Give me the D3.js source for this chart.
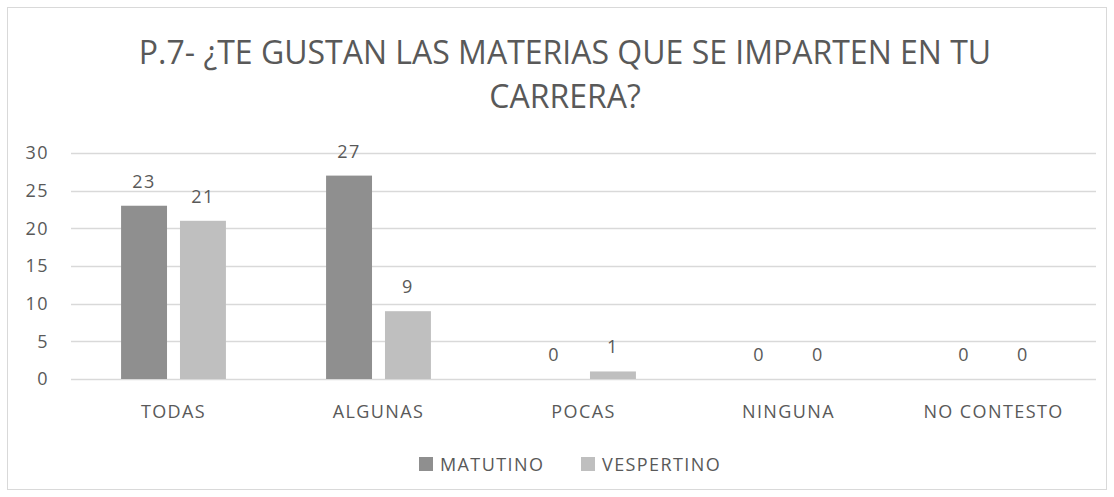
<!DOCTYPE html>
<html>
<head>
<meta charset="utf-8">
<script src="https://cdn.jsdelivr.net/npm/d3@7"></script>
<style>
  body { margin: 0; background: #fff; }
  text { font-family: 'Open Sans', sans-serif; fill: #595959; }
</style>
</head>
<body>
<svg id="chart" width="1114" height="497"></svg>
<script>
// datos
const categorias = ['TODAS', 'ALGUNAS', 'POCAS', 'NINGUNA', 'NO CONTESTO'];
const series = ['MATUTINO', 'VESPERTINO'];
const matutino = [23, 27, 0, 0, 0];
const vespertino = [21, 9, 1, 0, 0];
const ticks = [0, 5, 10, 15, 20, 25, 30];
const tituloLineas = ['P.7- ¿TE GUSTAN LAS MATERIAS QUE SE IMPARTEN EN TU', 'CARRERA?'];

const colores = { MATUTINO: '#8f8f8f', VESPERTINO: '#bfbfbf' };
const valores = { MATUTINO: matutino, VESPERTINO: vespertino };

const fuente = "'Open Sans', sans-serif";
const espacio = '1.4px';	// letter-spacing de los textos chicos

const svg = d3.select('#chart');

// marco
svg.append('rect')
  .attr('x', 7.5).attr('y', 7.5)
  .attr('width', 1099).attr('height', 482)
  .style('fill', '#fff')
  .style('stroke', '#d9d9d9');

// titulo
svg.append('text')
  .attr('x', 565)
  .attr('text-anchor', 'middle')
  .attr('font-size', '32px')
  .selectAll('tspan')
  .data(tituloLineas)
  .join('tspan')
  .attr('x', 565)
  .attr('y', (d, i) => 64 + i * 44)
  .text(d => d);

const plotL = 71, plotR = 1096, plotT = 153, plotB = 379;

const x = d3.scaleBand().domain(categorias).range([plotL, plotR]).paddingInner(0).paddingOuter(0);
const xs = d3.scaleBand().domain(series).range([0, x.bandwidth()]).paddingInner(0.22).paddingOuter(0.85);
const y = d3.scaleLinear().domain([0, 30]).range([plotB, plotT]);

// lineas de cuadricula
svg.append('g')
  .selectAll('line')
  .data(ticks)
  .join('line')
  .attr('x1', plotL).attr('x2', plotR)
  .attr('y1', d => Math.round(y(d)) + 0.5)
  .attr('y2', d => Math.round(y(d)) + 0.5)
  .style('stroke', '#d9d9d9')
  .style('stroke-width', 1.5);

// eje y
const ejeY = svg.append('g')
  .attr('transform', 'translate(' + (plotL - 22) + ',0)')
  .call(d3.axisLeft(y).tickValues(ticks).tickSize(0).tickPadding(0));
ejeY.select('.domain').remove();
ejeY.selectAll('text')
  .attr('font-size', '18px')
  .style('font-family', fuente)
  .style('letter-spacing', espacio)
  .attr('fill', '#595959');

// eje x
const ejeX = svg.append('g')
  .attr('transform', 'translate(0,' + (plotB + 26) + ')')
  .call(d3.axisBottom(x).tickSize(0).tickPadding(0));
ejeX.select('.domain').remove();
ejeX.selectAll('text')
  .attr('font-size', '18px')
  .style('font-family', fuente)
  .style('letter-spacing', espacio)
  .attr('fill', '#595959');

// barras
const grupos = svg.append('g')
  .selectAll('g')
  .data(categorias)
  .join('g')
  .attr('transform', d => 'translate(' + x(d) + ',0)');

grupos.selectAll('rect')
  .data((c, i) => series.map(s => ({ s: s, v: valores[s][i] })))
  .join('rect')
  .attr('x', d => xs(d.s))
  .attr('width', xs.bandwidth())
  .attr('y', d => y(d.v))
  .attr('height', d => y(0) - y(d.v))
  .style('fill', d => colores[d.s]);

// etiquetas de datos
grupos.selectAll('text.val')
  .data((c, i) => series.map(s => ({ s: s, v: valores[s][i] })))
  .join('text')
  .attr('class', 'val')
  .attr('x', d => xs(d.s) + xs.bandwidth() / 2)
  .attr('y', d => y(d.v) - 18)
  .attr('text-anchor', 'middle')
  .attr('font-size', '18px')
  .style('letter-spacing', espacio)
  .text(d => d.v);

// leyenda
const leyendaX = [419, 581];
const leyenda = svg.append('g')
  .selectAll('g')
  .data(series)
  .join('g')
  .attr('transform', (d, i) => 'translate(' + leyendaX[i] + ',457)');
leyenda.append('rect')
  .attr('width', 14).attr('height', 14)
  .style('fill', d => colores[d]);
leyenda.append('text')
  .attr('x', 21).attr('y', 14)
  .attr('font-size', '18px')
  .style('letter-spacing', espacio)
  .text(d => d);
</script>
</body>
</html>
